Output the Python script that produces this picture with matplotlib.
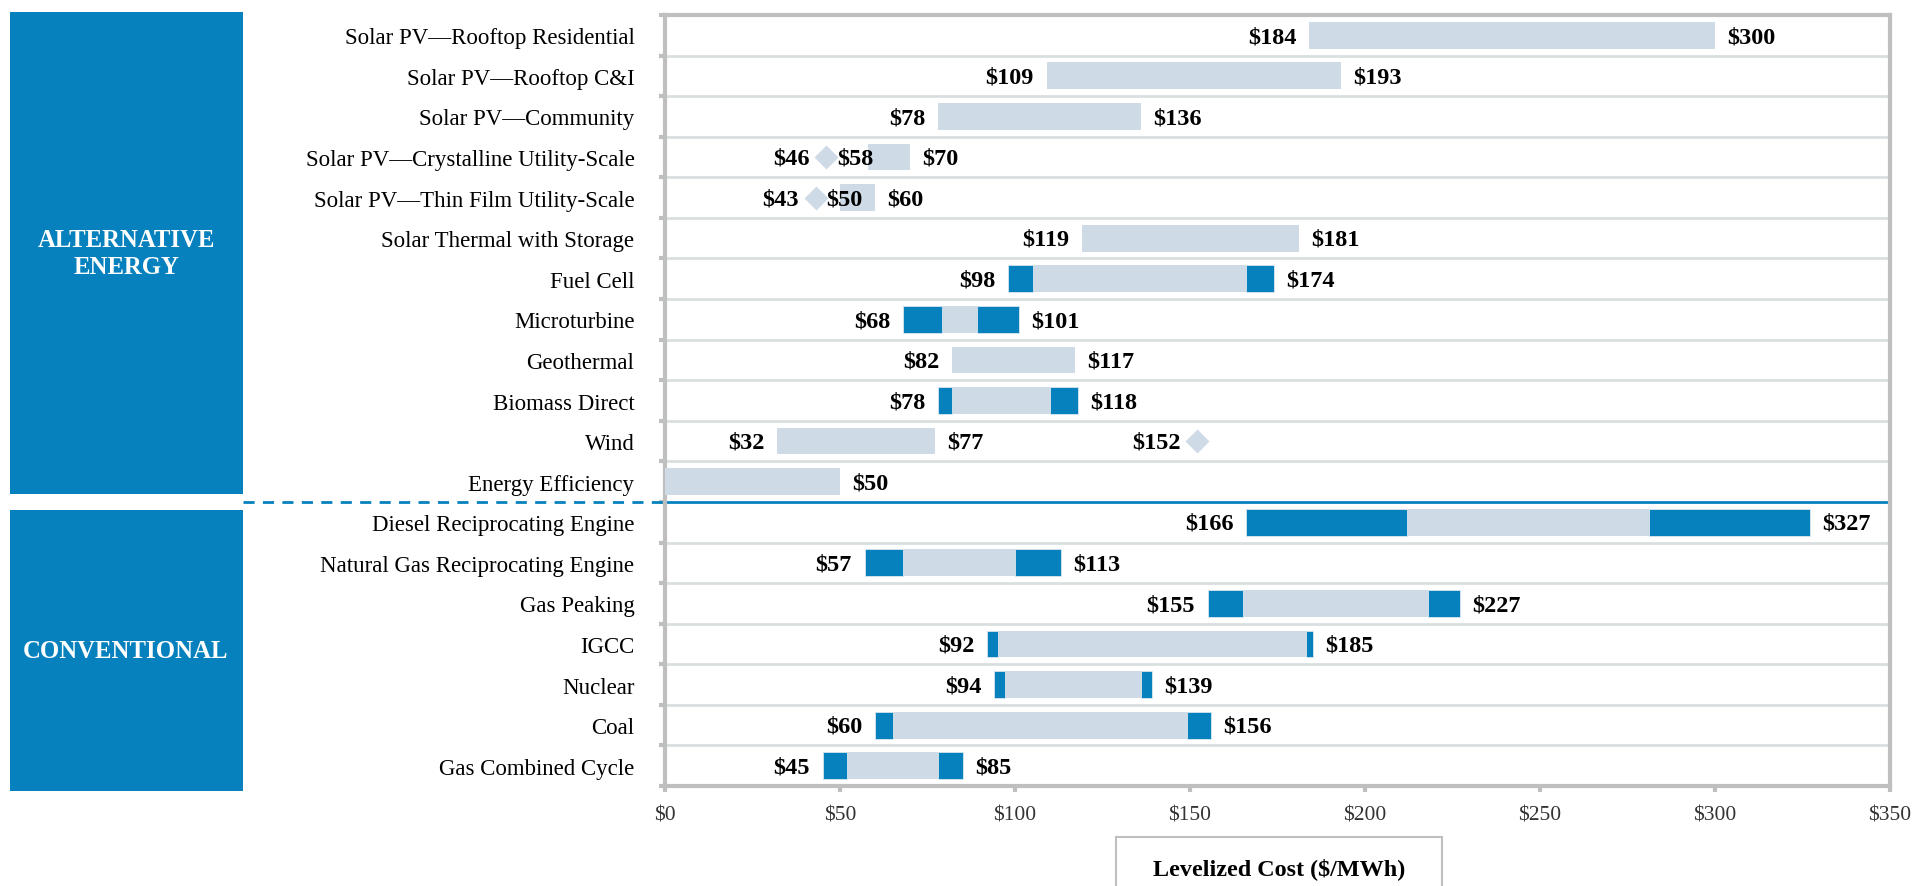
import numpy as np
import matplotlib
matplotlib.use('Agg')
import matplotlib.pyplot as plt
from matplotlib.patches import Rectangle
import matplotlib.transforms as mtransforms

plt.rcParams['font.family'] = ['Liberation Serif', 'DejaVu Serif']

# data ($/MWh)
technologies = ['Solar PV\u2014Rooftop Residential', 'Solar PV\u2014Rooftop C&I',
                'Solar PV\u2014Community', 'Solar PV\u2014Crystalline Utility-Scale',
                'Solar PV\u2014Thin Film Utility-Scale', 'Solar Thermal with Storage',
                'Fuel Cell', 'Microturbine', 'Geothermal', 'Biomass Direct', 'Wind',
                'Energy Efficiency', 'Diesel Reciprocating Engine',
                'Natural Gas Reciprocating Engine', 'Gas Peaking', 'IGCC', 'Nuclear',
                'Coal', 'Gas Combined Cycle']
low = [184, 109, 78, 58, 50, 119, 98, 68, 82, 78, 32, 0, 166, 57, 155, 92, 94, 60, 45]
high = [300, 193, 136, 70, 60, 181, 174, 101, 117, 118, 77, 50, 327, 113, 227, 185, 139, 156, 85]
# dark segments (low end / high end), None where the bar has none
dark_low_end = [None, None, None, None, None, None, 105, 79, None, 82, None, None,
                212, 68, 165, 95, 97, 65, 52]
dark_high_start = [None, None, None, None, None, None, 166, 89, None, 110, None, None,
                   281, 100, 218, 183, 136, 149, 78]
# diamonds: (row, value)
diamond_rows = [3, 4, 10]
diamond_vals = [46, 43, 152]
groups = ['ALTERNATIVE\nENERGY', 'CONVENTIONAL']
n_alt = 12
xticks = [0, 50, 100, 150, 200, 250, 300, 350]

LIGHT = '#CEDBE6'
DARK = '#0681BD'
GRID = '#D9DFE0'
AXIS = '#BFBFBF'

W, H = 1916, 887
fig = plt.figure(figsize=(W / 100, H / 100), dpi=100)
ax = fig.add_axes([665 / W, 1 - 787 / H, 1225 / W, 771 / H])

n = len(technologies)
y = np.arange(n)
lo = np.array(low)
hi = np.array(high)

ax.set_xlim(0, 350)
ax.set_ylim(n - 0.5, -0.5)

# gridlines between rows
for b in np.arange(0.5, n - 1, 1.0):
    if b == n_alt - 0.5:
        continue
    ax.axhline(b, color=GRID, lw=2, zorder=1)
ax.axhline(n_alt - 0.5, color=DARK, lw=2, zorder=2)

bh = 0.66
ax.barh(y, hi - lo, left=lo, height=bh, color=LIGHT, zorder=3)
for i in range(n):
    if dark_low_end[i] is not None:
        ax.barh(i, dark_low_end[i] - low[i], left=low[i], height=bh, color=DARK,
                edgecolor='#DCE8F0', lw=0.6, zorder=4)
        ax.barh(i, high[i] - dark_high_start[i], left=dark_high_start[i], height=bh,
                color=DARK, edgecolor='#DCE8F0', lw=0.6, zorder=4)

ax.plot(diamond_vals, diamond_rows, 'D', ms=12.5, color=LIGHT, mec='none', zorder=4,
        clip_on=False)

lab_kw = dict(fontsize=17.5, fontweight='bold', va='center', color='black',
              parse_math=False, zorder=5)
for i in range(n):
    ax.annotate(f'${high[i]}', (high[i], i + 0.03), xytext=(9, 0),
                textcoords='offset points', ha='left', **lab_kw)
    if low[i] > 0:
        if i in diamond_rows and diamond_vals[diamond_rows.index(i)] < low[i]:
            d = diamond_vals[diamond_rows.index(i)]
            ax.annotate(f'${low[i]}', (d, i + 0.03), xytext=(8, 0),
                        textcoords='offset points', ha='left', **lab_kw)
        else:
            ax.annotate(f'${low[i]}', (low[i], i + 0.03), xytext=(-9, 0),
                        textcoords='offset points', ha='right', **lab_kw)
for r, v in zip(diamond_rows, diamond_vals):
    ax.annotate(f'${v}', (v, r + 0.03), xytext=(-12, 0), textcoords='offset points',
                ha='right', **lab_kw)

# axes styling
for s in ax.spines.values():
    s.set_color(AXIS)
    s.set_linewidth(3)
ax.set_yticks(y)
ax.set_yticklabels(technologies, fontsize=16.5)
ax.set_yticks(np.arange(-0.5, n, 1.0), minor=True)
ax.tick_params(axis='y', which='major', length=0, pad=22)
ax.tick_params(axis='y', which='minor', length=4, width=3, color=AXIS)
ax.set_xticks(xticks)
ax.set_xticklabels([f'${t}' for t in xticks], fontsize=15.5, color='#333333',
                   parse_math=False)
ax.tick_params(axis='x', length=4, width=3, color=AXIS, pad=10)

# group boxes on the left
box_alt = (13, 495)
box_conv = (511, 792)
for (top, bot), name in zip([box_alt, box_conv], groups):
    fig.add_artist(Rectangle((10 / W, 1 - bot / H), 233 / W, (bot - top) / H,
                             transform=fig.transFigure, color=DARK, lw=0))
    fig.text(126 / W, 1 - (top + bot) / 2 / H, name, ha='center', va='center',
             color='white', fontsize=17.8, fontweight='bold', linespacing=1.2)

# dashed separator from box edge to plot
trans = mtransforms.blended_transform_factory(fig.transFigure, ax.transData)
ax.plot([243 / W, 665 / W], [n_alt - 0.5, n_alt - 0.5], transform=trans, color=DARK,
        lw=2, ls=(0, (4, 3)), clip_on=False)

# axis title box
fig.add_artist(Rectangle((1116 / W, -0.05), 326 / W, 1 - 838 / H + 0.05,
                         transform=fig.transFigure, facecolor='white',
                         edgecolor=AXIS, lw=1.5))
fig.text(1279 / W, 1 - 869 / H, 'Levelized Cost ($/MWh)', ha='center', va='center',
         fontsize=17.4, fontweight='bold', parse_math=False)

fig.savefig('out.png', dpi=100)
